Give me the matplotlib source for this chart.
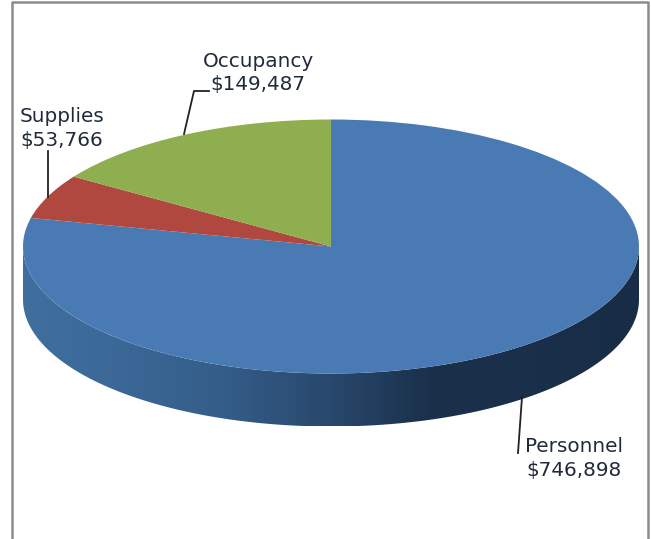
import numpy as np
import matplotlib
matplotlib.use('Agg')
import matplotlib.pyplot as plt
from matplotlib.patches import Polygon
from matplotlib.colors import LinearSegmentedColormap

categories = ['Personnel', 'Supplies', 'Occupancy']
values = [746898, 53766, 149487]
value_labels = ['$746,898', '$53,766', '$149,487']
colors = ['#4a7ab4', '#b0483f', '#8fae4f']
wall_colors = ['#406f9f', '#3a6796', '#345c88', '#28486c', '#1a2f4a', '#1a2f4a', '#182c45']

W, H = 651, 539
cx, cy = 331, 246.5   # pie centre in pixels
rx, ry = 308, 127
depth = 53 / ry

fig = plt.figure(figsize=(W / 100, H / 100), dpi=100)
ax = fig.add_axes([0, 0, 1, 1])
ax.pie(values, colors=colors, startangle=90, counterclock=False, radius=1,
       wedgeprops={'linewidth': 0, 'zorder': 3})
ax.set_aspect('auto')
ax.axis('off')


def px(x, y):
    # picture pixels to pie units
    return (x - cx) / rx, (cy - y) / ry


# side wall of the disc, gradient clipped to the lower half
t = np.linspace(np.pi, 2 * np.pi, 200)
lower = np.column_stack([np.cos(t), np.sin(t)])
wall = np.vstack([lower + [0, -depth], lower[::-1]])
wall_patch = Polygon(wall, closed=True, facecolor='none', edgecolor='none')
ax.add_patch(wall_patch)
cmap = LinearSegmentedColormap.from_list('wall', wall_colors)
im = ax.imshow(np.linspace(0, 1, 256).reshape(1, -1), cmap=cmap, aspect='auto',
               extent=(-1, 1, -1 - depth, 0), zorder=2)
im.set_clip_path(wall_patch)
ax.set_xlim(-cx / rx, (W - cx) / rx)
ax.set_ylim(-(H - cy) / ry, cy / ry)

# chart border, the bottom edge is cut off in the picture
border = [px(12, 539), px(12, 2), px(648, 2), px(648, 539)]
ax.plot([q[0] for q in border], [q[1] for q in border], color='#8c8c8c', lw=1.8, zorder=5)

# leader lines
for xs, ys in [((184, 194, 209), (134, 91, 91)),
               ((48, 48), (197, 151)),
               ((522, 518), (397, 453))]:
    p = [px(a, b) for a, b in zip(xs, ys)]
    ax.plot([q[0] for q in p], [q[1] for q in p], color='#222222', lw=1.3, zorder=4)

# labels
for name, val, (x, y) in [(categories[2], value_labels[2], (258, 73)),
                          (categories[1], value_labels[1], (62, 128.5)),
                          (categories[0], value_labels[0], (574, 458.5))]:
    tx, ty = px(x, y)
    ax.text(tx, ty, name + '\n' + val, ha='center', va='center', fontsize=14.4,
            color='#1f2a3a', family='DejaVu Sans', linespacing=1.3, zorder=6)

fig.savefig('out.png', dpi=100)
